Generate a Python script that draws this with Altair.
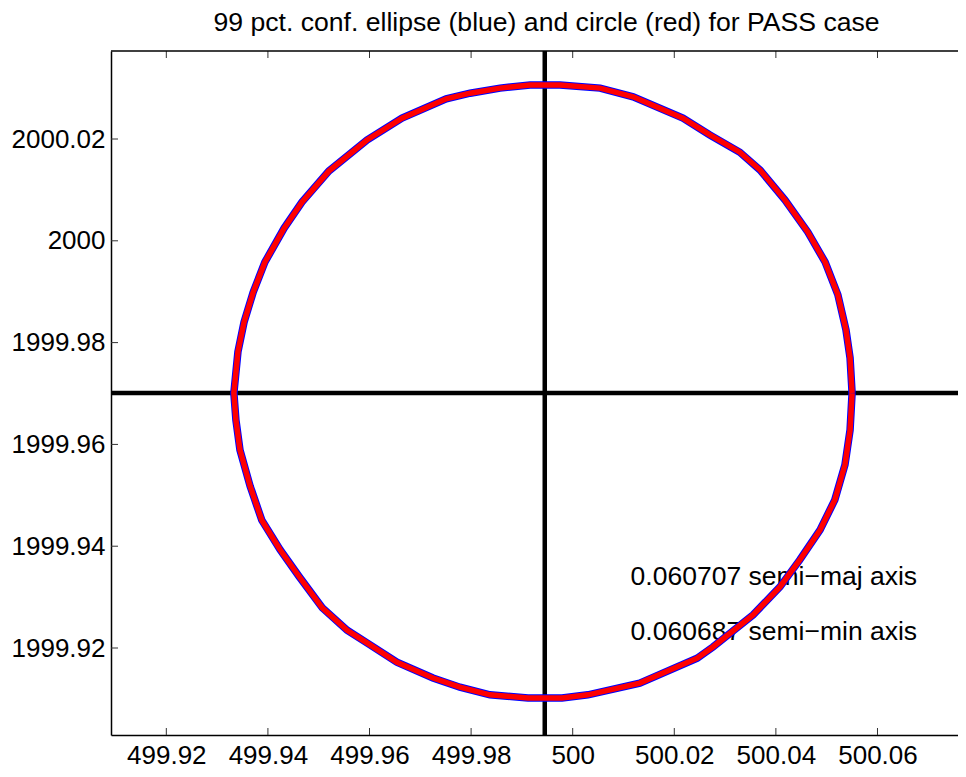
import altair as alt
import pandas as pd

# ---- data ----
outline_x = [500.0550, 500.0546, 500.0538, 500.0522, 500.0497, 500.0463, 500.0418, 500.0369,
             500.0329, 500.0270, 500.0217, 500.0119, 500.0054, 499.9975, 499.9916, 499.9857,
             499.9798, 499.9751, 499.9664, 499.9595, 499.9520, 499.9467, 499.9432, 499.9394,
             499.9371, 499.9353, 499.9341, 499.9333, 499.9337, 499.9345, 499.9365, 499.9388,
             499.9424, 499.9461, 499.9507, 499.9556, 499.9595, 499.9654, 499.9725, 499.9778,
             499.9837, 499.9912, 499.9979, 500.0030, 500.0132, 500.0245, 500.0276, 500.0355,
             500.0408, 500.0447, 500.0487, 500.0516, 500.0536, 500.0546, 500.0550]
outline_y = [1999.9701, 1999.9770, 1999.9825, 1999.9894, 1999.9958, 2000.0017, 2000.0080, 2000.0139,
             2000.0174, 2000.0208, 2000.0241, 2000.0283, 2000.0300, 2000.0306, 2000.0306, 2000.0300,
             2000.0290, 2000.0279, 2000.0241, 2000.0198, 2000.0137, 2000.0076, 2000.0025, 1999.9958,
             1999.9899, 1999.9840, 1999.9782, 1999.9701, 1999.9648, 1999.9589, 1999.9518, 1999.9451,
             1999.9393, 1999.9341, 1999.9279, 1999.9235, 1999.9210, 1999.9172, 1999.9141, 1999.9123,
             1999.9108, 1999.9102, 1999.9102, 1999.9108, 1999.9131, 1999.9180, 1999.9202, 1999.9265,
             1999.9320, 1999.9373, 1999.9432, 1999.9491, 1999.9560, 1999.9628, 1999.9701]

center_x = 499.9945
center_y = 1999.9701

x_ticks = [499.92, 499.94, 499.96, 499.98, 500.0, 500.02, 500.04, 500.06]
y_ticks = [1999.92, 1999.94, 1999.96, 1999.98, 2000.0, 2000.02]

label_x = [500.0114, 500.0114]
label_y = [1999.9324, 1999.9216]
label_text = ["0.060707 semi\u2212maj axis", "0.060687 semi\u2212min axis"]

title_text = ["99 pct. conf. ellipse (blue) and circle (red) for PASS case"]

x_domain = [499.90911, 500.07585]
y_domain = [1999.90291, 2000.03729]

W, H = 847, 684
FONT = "Liberation Sans"

# ---- tables ----
shape_df = pd.DataFrame({"x": outline_x, "y": outline_y, "i": list(range(len(outline_x)))})
xt_df = pd.DataFrame({"v": x_ticks})
yt_df = pd.DataFrame({"v": y_ticks})
lab_df = pd.DataFrame({"x": label_x, "y": label_y, "t": label_text})
one_df = pd.DataFrame({"cx": [center_x], "cy": [center_y]})
title_df = pd.DataFrame({"t": title_text})

xs = alt.Scale(domain=x_domain, nice=False, zero=False)
ys = alt.Scale(domain=y_domain, nice=False, zero=False)

xax = alt.Axis(values=x_ticks, format="~g", title=None, ticks=False, grid=False,
               domainColor="black", domainWidth=1.5, labelPadding=7,
               labelFont=FONT, labelFontSize=26, labelColor="black")
yax = alt.Axis(values=y_ticks, format="~g", title=None, ticks=False, grid=False,
               domainColor="black", domainWidth=1.5, labelPadding=6,
               labelFont=FONT, labelFontSize=26, labelColor="black")

base_axes = alt.Chart(xt_df).mark_rule(color="#333333", strokeWidth=1).encode(
    x=alt.X("v:Q", scale=xs, axis=xax),
    y=alt.value(H - 7), y2=alt.value(H),
)
top_ticks = alt.Chart(xt_df).mark_rule(color="#333333", strokeWidth=1).encode(
    x=alt.X("v:Q", scale=xs), y=alt.value(0), y2=alt.value(7),
)
left_ticks = alt.Chart(yt_df).mark_rule(color="#333333", strokeWidth=1).encode(
    y=alt.Y("v:Q", scale=ys, axis=yax), x=alt.value(0), x2=alt.value(7),
)
top_line = alt.Chart(one_df).mark_rule(color="black", strokeWidth=1.5).encode(
    x=alt.value(0), x2=alt.value(W), y=alt.value(0),
)
vcross = alt.Chart(one_df).mark_rule(color="black", strokeWidth=4.5).encode(
    x=alt.X("cx:Q", scale=xs),
)
hcross = alt.Chart(one_df).mark_rule(color="black", strokeWidth=4.5).encode(
    y=alt.Y("cy:Q", scale=ys),
)
labels = alt.Chart(lab_df).mark_text(align="left", baseline="alphabetic", font=FONT,
                                     fontSize=26.5, color="black").encode(
    x=alt.X("x:Q", scale=xs), y=alt.Y("y:Q", scale=ys), text="t:N",
)
ellipse = alt.Chart(shape_df).mark_line(color="#0000ff", strokeWidth=7.5).encode(
    x=alt.X("x:Q", scale=xs), y=alt.Y("y:Q", scale=ys), order="i:Q",
)
circle = alt.Chart(shape_df).mark_line(color="#ff0000", strokeWidth=5.5).encode(
    x=alt.X("x:Q", scale=xs), y=alt.Y("y:Q", scale=ys), order="i:Q",
)
title = alt.Chart(title_df).mark_text(align="center", baseline="alphabetic", font=FONT,
                                      fontSize=26.6, color="black").encode(
    text="t:N", x=alt.value(435.5), y=alt.value(-20.5),
)

chart = alt.layer(
    base_axes, top_ticks, left_ticks, top_line, vcross, hcross, labels, ellipse, circle, title
).properties(
    width=W, height=H,
    padding={"left": 103, "top": 43, "right": 0, "bottom": 34},
    autosize=alt.AutoSizeParams(type="none"),
    background="white",
).configure_view(stroke=None)

chart.save("out.html", embed_options={"renderer": "svg", "actions": False})
